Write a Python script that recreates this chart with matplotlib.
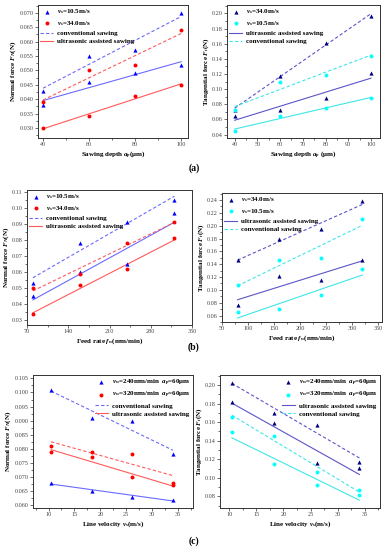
import numpy as np
import matplotlib
matplotlib.use('Agg')
import matplotlib.pyplot as plt
from matplotlib.ticker import FormatStrFormatter, MultipleLocator, AutoMinorLocator

plt.rcParams['font.family'] = ['Liberation Serif', 'DejaVu Serif']
plt.rcParams['mathtext.fontset'] = 'custom'
plt.rcParams['mathtext.rm'] = 'Liberation Serif:bold'
plt.rcParams['mathtext.it'] = 'Liberation Serif:italic:bold'
plt.rcParams['mathtext.bf'] = 'Liberation Serif:bold'

# ── Data ──────────────────────────────────────────────────────────────────────
DEPTH = [40, 60, 80, 100]          # sawing depth a_p (um)
FEED = [80, 160, 240, 320]         # feed rate f_w (mm/min)
SPEED = [10.5, 18.3, 26.2, 34.0]   # line velocity v_s (m/s)

# (a) normal force vs depth
A_N_105_CONV = [0.043, 0.055, 0.057, 0.070]
A_N_105_UAS = [0.038, 0.046, 0.049, 0.052]
A_N_34_CONV = [0.039, 0.050, 0.052, 0.064]
A_N_34_UAS = [0.030, 0.034, 0.041, 0.045]

# (a) tangential force vs depth
A_T_34_CONV = [0.073, 0.118, 0.161, 0.197]
A_T_34_UAS = [0.065, 0.072, 0.089, 0.121]
A_T_105_CONV = [0.072, 0.109, 0.119, 0.144]
A_T_105_UAS = [0.045, 0.065, 0.075, 0.088]

# (b) normal force vs feed rate
B_N_105_CONV = [0.053, 0.078, 0.091, 0.105]
B_N_105_UAS = [0.045, 0.060, 0.065, 0.097]
B_N_34_CONV = [0.050, 0.059, 0.078, 0.091]
B_N_34_UAS = [0.034, 0.052, 0.062, 0.081]

# (b) tangential force vs feed rate
B_T_34_CONV = [0.147, 0.179, 0.195, 0.238]
B_T_34_UAS = [0.077, 0.121, 0.116, 0.146]
B_T_105_CONV = [0.107, 0.147, 0.149, 0.211]
B_T_105_UAS = [0.065, 0.070, 0.092, 0.132]

# (c) normal force vs line velocity
C_N_240_CONV = [0.101, 0.091, 0.090, 0.078]
C_N_240_UAS = [0.068, 0.065, 0.063, 0.062]
C_N_320_CONV = [0.081, 0.079, 0.078, 0.068]
C_N_320_UAS = [0.079, 0.077, 0.070, 0.067]

# (c) tangential force vs line velocity
C_T_240_CONV = [0.202, 0.170, 0.157, 0.117]
C_T_240_UAS = [0.182, 0.159, 0.116, 0.111]
C_T_320_CONV = [0.166, 0.145, 0.106, 0.087]
C_T_320_UAS = [0.149, 0.115, 0.092, 0.082]

LBL_V105 = r'$v_s$=10.5m/s'
LBL_V34 = r'$v_s$=34.0m/s'
LBL_W240 = r'$v_w$=240mm/min  $a_p$=60$\mathrm{\mu}$m'
LBL_W320 = r'$v_w$=320mm/min  $a_p$=60$\mathrm{\mu}$m'

BLUE, BLUE_L = '#0000ff', '#6a6aff'
RED, RED_L = '#ff0000', '#ff5a5a'
NAVY, NAVY_L = '#000080', '#5b55c8'
CYAN, CYAN_L = '#00ffff', '#3fe6e6'

FS_TICK = 4.4
FS_TEXT = 5.0


def fit_line(ax, x, y, colour, ls):
    k, b = np.polyfit(x, y, 1)
    xs = np.array([min(x), max(x)])
    return ax.plot(xs, k * xs + b, color=colour, ls=ls, lw=0.8)[0]


def panel(rect, x, groups, line_order, xlabel, ylabel, xlim, ylim,
          xstep, ystep, yfmt, legend_loc):
    """groups: list of (label, conv, uas, marker, mcol, lcol)."""
    ax = fig.add_axes(rect)
    handles, labels = [], []
    lines = {}
    for label, conv, uas, marker, mcol, lcol in groups:
        ms = 9 if marker == '^' else 8
        h = ax.scatter(x, conv, marker=marker, s=ms, color=mcol, zorder=3, linewidths=0)
        ax.scatter(x, uas, marker=marker, s=ms, color=mcol, zorder=3, linewidths=0)
        lines[(mcol, 'conv')] = fit_line(ax, x, conv, lcol, (0, (3, 2)))
        lines[(mcol, 'uas')] = fit_line(ax, x, uas, lcol, '-')
        handles.append(h)
        labels.append(label)
    for key, text in line_order:
        handles.append(lines[key])
        labels.append(text)

    ax.set_xlim(*xlim)
    ax.set_ylim(*ylim)
    ax.xaxis.set_major_locator(MultipleLocator(xstep))
    ax.yaxis.set_major_locator(MultipleLocator(ystep))
    ax.yaxis.set_major_formatter(FormatStrFormatter(yfmt))
    ax.xaxis.set_minor_locator(AutoMinorLocator(2))
    ax.yaxis.set_minor_locator(AutoMinorLocator(2))
    ax.tick_params(which='both', direction='out', labelsize=FS_TICK,
                   colors='#333333', labelcolor='#444444', width=0.5, pad=1.2)
    ax.tick_params(which='major', length=2)
    ax.tick_params(which='minor', length=1.2)
    for sp in ax.spines.values():
        sp.set_linewidth(0.7)
        sp.set_color('#333333')
    ax.set_xlabel(xlabel, fontsize=FS_TEXT, fontweight='bold', labelpad=1.2)
    ax.set_ylabel(ylabel, fontsize=FS_TEXT, fontweight='bold', labelpad=0.8)

    ax.legend(handles, labels, loc=legend_loc, frameon=False,
              prop={'size': FS_TEXT, 'weight': 'bold'}, handlelength=1.8,
              handletextpad=0.6, labelspacing=0.35, borderaxespad=0.15,
              borderpad=0.2, scatterpoints=1)
    return ax


W, H = 389, 550
fig = plt.figure(figsize=(W / 100, H / 100), dpi=100)


def rect(x0, y0, x1, y1):
    return [x0 / W, 1 - y1 / H, (x1 - x0) / W, (y1 - y0) / H]


NF = r'Normal force $F_N$(N)'
TF = r'Tangential force $F_t$(N)'

# (a) left
panel(rect(38, 5, 188, 138), DEPTH,
      [(LBL_V105, A_N_105_CONV, A_N_105_UAS, '^', BLUE, BLUE_L),
       (LBL_V34, A_N_34_CONV, A_N_34_UAS, 'o', RED, RED_L)],
      [((BLUE, 'conv'), 'conventional sawing'), ((RED, 'uas'), 'ultrasonic assisted sawing')],
      r'Sawing depth $a_p$($\mathrm{\mu}$m)', NF, (37.8, 103), (0.0265, 0.0727),
      20, 0.005, '%.3f', 'upper left')

# (a) right
panel(rect(227, 5, 380, 138), DEPTH,
      [(LBL_V34, A_T_34_CONV, A_T_34_UAS, '^', NAVY, NAVY_L),
       (LBL_V105, A_T_105_CONV, A_T_105_UAS, 'o', CYAN, CYAN_L)],
      [((NAVY, 'uas'), 'ultrasonic assisted sawing'), ((CYAN, 'conv'), 'conventional sawing')],
      r'Sawing depth $a_p$ ($\mathrm{\mu}$m)', TF, (36.6, 104), (0.0356, 0.211),
      10, 0.02, '%.2f', 'upper left')

# (b) left
panel(rect(27, 190, 192, 325), FEED,
      [(LBL_V105, B_N_105_CONV, B_N_105_UAS, '^', BLUE, BLUE_L),
       (LBL_V34, B_N_34_CONV, B_N_34_UAS, 'o', RED, RED_L)],
      [((BLUE, 'conv'), 'conventional sawing'), ((RED, 'uas'), 'ultrasonic assisted sawing')],
      r'Feed rate $f_w$(mm/min)', NF, (70, 350), (0.027, 0.111),
      70, 0.01, '%.2f', 'upper left')

# (b) right
panel(rect(222, 193, 382, 322), FEED,
      [(LBL_V34, B_T_34_CONV, B_T_34_UAS, '^', NAVY, NAVY_L),
       (LBL_V105, B_T_105_CONV, B_T_105_UAS, 'o', CYAN, CYAN_L)],
      [((NAVY, 'uas'), 'ultrasonic assisted sawing'), ((CYAN, 'conv'), 'conventional sawing')],
      r'Feed rate $f_w$(mm/min)', TF, (50, 358), (0.05, 0.251),
      50, 0.02, '%.2f', 'upper left')

# (c) left
panel(rect(33, 375, 193, 508), SPEED,
      [(LBL_W240, C_N_240_CONV, C_N_240_UAS, '^', BLUE, BLUE_L),
       (LBL_W320, C_N_320_CONV, C_N_320_UAS, 'o', RED, RED_L)],
      [((BLUE, 'conv'), 'conventional sawing'), ((RED, 'uas'), 'ultrasonic assisted sawing')],
      r'Line velocity $v_s$(m/s)', NF, (7, 37.9), (0.059, 0.1062),
      5, 0.005, '%.3f', 'upper right')

# (c) right
panel(rect(220, 375, 380, 508), SPEED,
      [(LBL_W240, C_T_240_CONV, C_T_240_UAS, '^', NAVY, NAVY_L),
       (LBL_W320, C_T_320_CONV, C_T_320_UAS, 'o', CYAN, CYAN_L)],
      [((NAVY, 'uas'), 'ultrasonic assisted sawing'), ((CYAN, 'conv'), 'conventional sawing')],
      r'Line velocity $v_s$(m/s)', TF, (8.3, 37.8), (0.0675, 0.2107),
      5, 0.02, '%.2f', 'upper right')

for text, y in [('(a)', 168), ('(b)', 347), ('(c)', 541)]:
    fig.text(194 / W, 1 - y / H, text, fontsize=7, fontweight='bold',
             ha='center', va='center')

fig.savefig('out.png', dpi=100)
